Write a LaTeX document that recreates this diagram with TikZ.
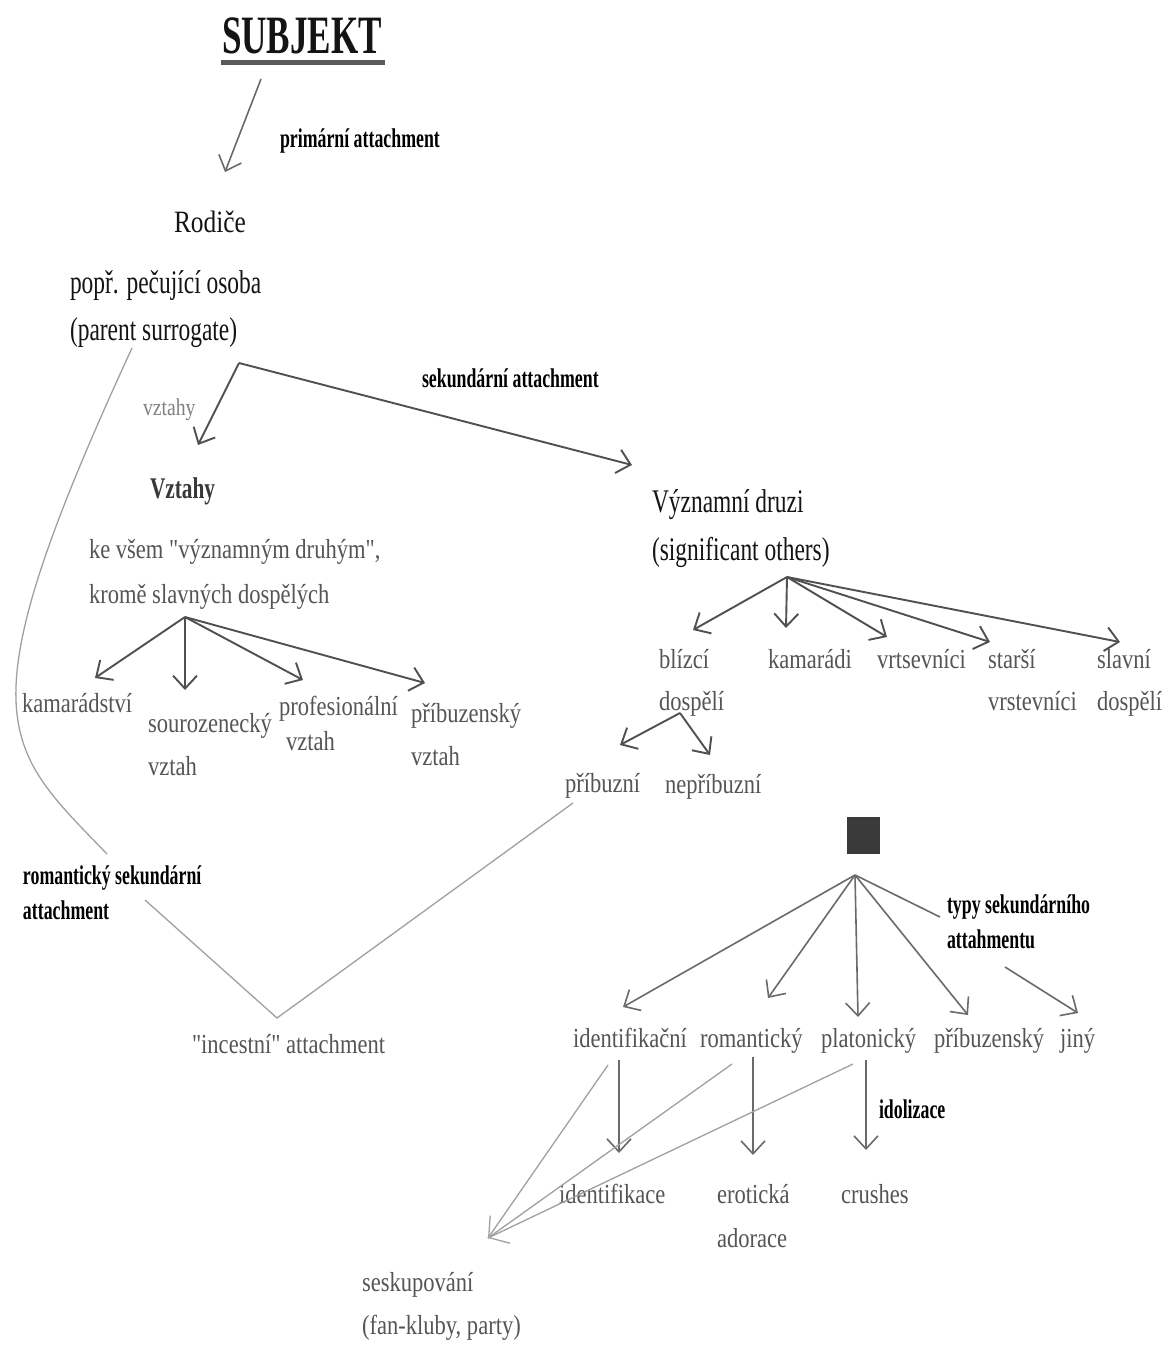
\documentclass[tikz,border=0pt]{standalone}
\usepackage{fontspec}
\setmainfont{Liberation Serif}
\newfontfamily\fgray{Liberation Serif}[FakeStretch=0.82]
\newfontfamily\fblk{Liberation Serif}[FakeStretch=0.71]
\newfontfamily\fttl{Liberation Serif}[FakeStretch=0.65]
\newfontfamily\flab{Liberation Serif}[FakeStretch=0.66]
\usetikzlibrary{arrows.meta}
\definecolor{txtgray}{HTML}{555555}
\definecolor{lndark}{HTML}{505050}
\definecolor{lnmid}{HTML}{6A6A6A}
\definecolor{lnlight}{HTML}{A0A0A0}
\definecolor{ulgray}{HTML}{5A5A5A}
\definecolor{sqfill}{HTML}{3A3A3A}
\begin{document}
\begin{tikzpicture}[x=1pt,y=-1pt,
  txt/.style={inner sep=0pt, outer sep=0pt, anchor=base west},
  gt/.style={txt, text=txtgray, font=\fgray\fontsize{27.5}{30}\selectfont},
  blk/.style={txt, text=black!92, font=\fblk\fontsize{33}{36}\selectfont},
  hdr/.style={txt, text=black!78, font=\fblk\bfseries\fontsize{30}{32}\selectfont},
  lab/.style={txt, text=black, font=\flab\bfseries\fontsize{27}{29}\selectfont},
  smalllab/.style={txt, text=black!50, font=\fgray\fontsize{24}{26}\selectfont},
  ttl/.style={txt, text=black!92, font=\fttl\bfseries\fontsize{54}{56}\selectfont},
  tip/.style={-{Straight Barb[length=13pt,width=24pt]}},
  arrd/.style={draw=lndark, line width=1.9pt, tip},
  arrm/.style={draw=lnmid, line width=1.6pt, tip},
  light/.style={draw=lnlight, line width=1.3pt},
  sqbox/.style={fill=sqfill, draw=none, minimum width=33pt, minimum height=37pt, inner sep=0pt}
]
\useasboundingbox (0,0) rectangle (1173,1346);
\fill[white] (0,0) rectangle (1173,1346);

% ---------- texts ----------
\node[ttl] (subj) at (222,53) {SUBJEKT};
\node[lab] (prim) at (280,147) {primární attachment};
\node[txt, text=black!92, font=\fgray\fontsize{31}{33}\selectfont] (rod) at (174,232) {Rodiče};
\node[blk] (popr) at (70,293) {popř. pečující osoba};
\node[blk] (surr) at (70,340) {(parent surrogate)};
\node[lab] (seklab) at (422,387) {sekundární attachment};
\node[smalllab] (vzs) at (143,415) {vztahy};
\node[hdr] (vzt) at (150,498) {Vztahy};
\node[gt] (kevs) at (89,558) {ke všem "významným druhým",};
\node[gt] (krom) at (89,603) {kromě slavných dospělých};
\node[gt] (kam) at (22,712) {kamarádství};
\node[gt] (sour) at (148,732) {sourozenecký};
\node[gt] (sourb) at (148,775) {vztah};
\node[gt] (prof) at (279,715) {profesionální};
\node[gt] (profb) at (286,750) {vztah};
\node[gt] (pribv) at (411,722) {příbuzenský};
\node[gt] (pribvb) at (411,765) {vztah};

\node[blk] (vyz) at (652,512) {Významní druzi};
\node[blk] (sig) at (652,560) {(significant others)};
\node[gt] (bliz) at (659,668) {blízcí};
\node[gt] (blizb) at (659,710) {dospělí};
\node[gt] (kamr) at (768,668) {kamarádi};
\node[gt] (vrts) at (877,668) {vrtsevníci};
\node[gt] (star) at (988,668) {starší};
\node[gt] (starb) at (988,710) {vrstevníci};
\node[gt] (slav) at (1097,668) {slavní};
\node[gt] (slavb) at (1097,710) {dospělí};
\node[gt] (pbz) at (565,792) {příbuzní};
\node[gt] (npbz) at (665,793) {nepříbuzní};

\node[sqbox] (sq) at (863.5,835.5) {};
\node[lab] (roma) at (23,884) {romantický sekundární};
\node[lab] (romb) at (23,919) {attachment};
\node[gt] (inc) at (192,1053) {"incestní" attachment};
\node[lab] (typy) at (947,913) {typy sekundárního};
\node[lab] (typyb) at (947,948) {attahmentu};
\node[gt] (idf) at (573,1047) {identifikační};
\node[gt] (rom) at (700,1047) {romantický};
\node[gt] (plat) at (821,1047) {platonický};
\node[gt] (prbz) at (934,1047) {příbuzenský};
\node[gt] (jiny) at (1060,1047) {jiný};
\node[lab] (idol) at (879,1118) {idolizace};
\node[gt] (idfc) at (559,1203) {identifikace};
\node[gt] (erot) at (717,1203) {erotická};
\node[gt] (erotb) at (717,1247) {adorace};
\node[gt] (crus) at (841,1203) {crushes};
\node[gt] (sesk) at (362,1291) {seskupování};
\node[gt] (seskb) at (362,1334) {(fan-kluby, party)};

% underline of title
\draw[ulgray, line width=5pt] ([yshift=-9.5pt,xshift=-1pt]subj.base west) -- ([yshift=-9.5pt,xshift=3pt]subj.base east);

% ---------- connector points ----------
\coordinate (p1) at (261,79);   \coordinate (p2) at (225,172);
\coordinate (sv) at (239,363);  \coordinate (st1) at (198,445); \coordinate (st2) at (632,465);
\coordinate (vs) at (185,617);
\coordinate (vt1) at (95,678);  \coordinate (vt2) at (185,690);
\coordinate (vt3) at (303,680); \coordinate (vt4) at (425,683);
\coordinate (ss) at (787,577);
\coordinate (so1) at (693,630); \coordinate (so2) at (786,628); \coordinate (so3) at (887,637);
\coordinate (so4) at (990,642); \coordinate (so5) at (1120,642);
\coordinate (bs) at (680,713);  \coordinate (bt1) at (620,745); \coordinate (bt2) at (710,755);
\coordinate (qs) at (855,875);
\coordinate (qt1) at (623,1007); \coordinate (qt2) at (768,998); \coordinate (qt3) at (858,1017);
\coordinate (qt4) at (968,1015); \coordinate (qty) at (940,917);
\coordinate (qj1) at (1005,967); \coordinate (qj2) at (1078,1013);
\coordinate (c0) at (132,348); \coordinate (c1) at (107,854);
\coordinate (c2) at (145,900); \coordinate (cv) at (277,1018); \coordinate (c3) at (573,803);
\coordinate (sk) at (488,1238);
\coordinate (d1a) at (619,1060); \coordinate (d1b) at (619,1153);
\coordinate (d2a) at (753,1057); \coordinate (d2b) at (753,1155);
\coordinate (d3a) at (866,1060); \coordinate (d3b) at (866,1150);
\coordinate (g1) at (608,1065); \coordinate (g2) at (732,1064); \coordinate (g3) at (853,1064);

% ---------- connectors ----------
\draw[arrm] (p1) -- (p2);
\draw[arrd] (sv) -- (st1);
\draw[arrd] (sv) -- (st2);

\foreach \t in {vt1,vt2,vt3,vt4} \draw[arrd] (vs) -- (\t);
\foreach \t in {so1,so2,so3,so4,so5} \draw[arrd] (ss) -- (\t);
\draw[arrd] (bs) -- (bt1);
\draw[arrd] (bs) -- (bt2);

\foreach \t in {qt1,qt2,qt3,qt4} \draw[arrm] (qs) -- (\t);
\draw[draw=lnmid, line width=1.6pt] (qs) -- (qty);
\draw[arrm] (qj1) -- (qj2);

\draw[arrm] (d1a) -- (d1b);
\draw[arrm] (d2a) -- (d2b);
\draw[arrm] (d3a) -- (d3b);

% light connectors
\draw[light] (c0) .. controls (-40,721) and (3,746) .. (c1);
\draw[light] (c2) -- (cv) -- (c3);
\draw[light] (g1) -- (sk);
\draw[light] (g3) -- (sk);
\draw[light, -{Straight Barb[length=14pt,width=34pt]}] (g2) -- (sk);
\end{tikzpicture}
\end{document}
